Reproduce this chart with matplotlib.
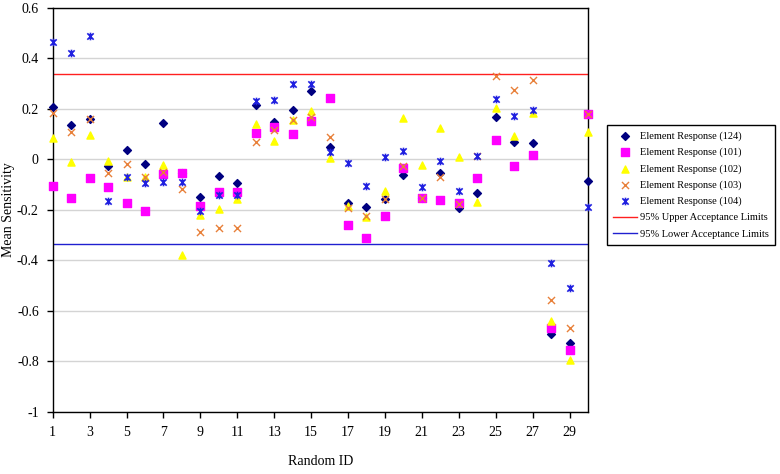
import numpy as np
import matplotlib
matplotlib.use("Agg")
import matplotlib.pyplot as plt
from matplotlib.path import Path

ids = list(range(1, 31))

resp_124 = [0.208, 0.137, 0.161, -0.025, 0.036, -0.019, 0.142, -0.055, -0.148, -0.067,
            -0.095, 0.215, 0.149, 0.195, 0.269, 0.050, -0.174, -0.190, -0.157, -0.061,
            -0.155, -0.054, -0.193, -0.133, 0.169, 0.070, 0.063, -0.690, -0.729, -0.087]
resp_101 = [-0.106, -0.152, -0.073, -0.108, -0.172, -0.203, -0.058, -0.054, -0.184, -0.128,
            -0.128, 0.105, 0.129, 0.100, 0.153, 0.244, -0.259, -0.313, -0.225, -0.036,
            -0.155, -0.161, -0.175, -0.075, 0.076, -0.025, 0.018, -0.669, -0.754, 0.178]
resp_102 = [0.086, -0.010, 0.095, -0.006, -0.069, -0.069, -0.023, -0.378, -0.220, -0.197,
            -0.157, 0.139, 0.074, 0.155, 0.191, 0.006, -0.185, -0.230, -0.124, 0.165,
            -0.021, 0.125, 0.011, -0.169, 0.203, 0.092, 0.182, -0.640, -0.795, 0.107]
resp_103 = [0.185, 0.109, 0.161, -0.056, -0.020, -0.069, -0.050, -0.118, -0.288, -0.271,
            -0.271, 0.069, 0.116, 0.156, 0.169, 0.087, -0.194, -0.226, -0.157, -0.027,
            -0.153, -0.072, -0.176, 0.012, 0.330, 0.276, 0.316, -0.559, -0.669, 0.178]
resp_104 = [0.463, 0.420, 0.490, -0.165, -0.070, -0.093, -0.089, -0.090, -0.203, -0.141,
            -0.141, 0.231, 0.236, 0.298, 0.298, 0.030, -0.013, -0.107, 0.009, 0.034,
            -0.109, -0.007, -0.124, 0.012, 0.239, 0.171, 0.195, -0.410, -0.508, -0.190]

upper_limit = 0.337
lower_limit = -0.337

xticks = list(range(1, 30, 2))
yticks = [-1, -0.8, -0.6, -0.4, -0.2, 0, 0.2, 0.4, 0.6]
ytick_labels = ["-1", "-0.8", "-0.6", "-0.4", "-0.2", "0", "0.2", "0.4", "0.6"]

plt.rcParams['font.family'] = ['Liberation Serif', 'DejaVu Serif']

star = Path([(-1, -1), (1, 1), (-1, 1), (1, -1), (0, -1.2), (0, 1.2)],
            [Path.MOVETO, Path.LINETO, Path.MOVETO, Path.LINETO, Path.MOVETO, Path.LINETO])

fig = plt.figure(figsize=(7.8, 4.74), dpi=100)
ax = fig.add_axes([52.7 / 780, 1 - 411.8 / 474, (588 - 52.7) / 780, (411.8 - 7.8) / 474])

for y in yticks:
    ax.axhline(y, color='#d4d4d4', lw=1.0, zorder=0)

h1 = ax.scatter(ids, resp_124, marker='D', s=16, color='#000080', label='Element Response (124)', zorder=3, clip_on=False)
h2 = ax.scatter(ids, resp_101, marker='s', s=26, color='#FF00FF', label='Element Response (101)', zorder=3, clip_on=False)
h3 = ax.scatter(ids, resp_102, marker='^', s=26, color='#FFFF00', label='Element Response (102)', zorder=3, clip_on=False)
h4 = ax.scatter(ids, resp_103, marker='x', s=26, color='#E8803A', linewidths=1.0, label='Element Response (103)', zorder=3, clip_on=False)
h5 = ax.scatter(ids, resp_104, marker=star, s=30, color='#2020E0', linewidths=1.2, label='Element Response (104)', zorder=3, clip_on=False)
l1 = ax.axhline(upper_limit, color='#FF2020', lw=1.0, label='95% Upper Acceptance Limits', zorder=2)
l2 = ax.axhline(lower_limit, color='#2020D0', lw=1.0, label='95% Lower Acceptance Limits', zorder=2)

ax.set_xlim(1, 30)
ax.set_ylim(-1, 0.6)
ax.set_xticks(xticks)
ax.set_xticklabels([str(t) for t in xticks], fontsize=10)
ax.set_yticks(yticks)
ax.set_yticklabels(ytick_labels, fontsize=10)
ax.tick_params(direction='out', length=4, width=1, pad=6)
for sp in ax.spines.values():
    sp.set_color('black')
    sp.set_linewidth(1.0)

ax.set_xlabel('Random ID', fontsize=10, labelpad=12)
ax.set_ylabel('Mean Sensitivity', fontsize=10)
ax.yaxis.set_label_coords(-0.071, 0.5)

leg = fig.legend(handles=[h1, h2, h3, h4, h5, l1, l2], loc='upper left',
                 bbox_to_anchor=(607 / 780, 1 - 125 / 474), fontsize=7.5,
                 frameon=True, fancybox=False, edgecolor='black', framealpha=1,
                 borderpad=0.6, labelspacing=0.65, handlelength=2.3, handletextpad=0.3,
                 borderaxespad=0)
leg.get_frame().set_linewidth(1.0)

fig.savefig('out.png', dpi=100)
